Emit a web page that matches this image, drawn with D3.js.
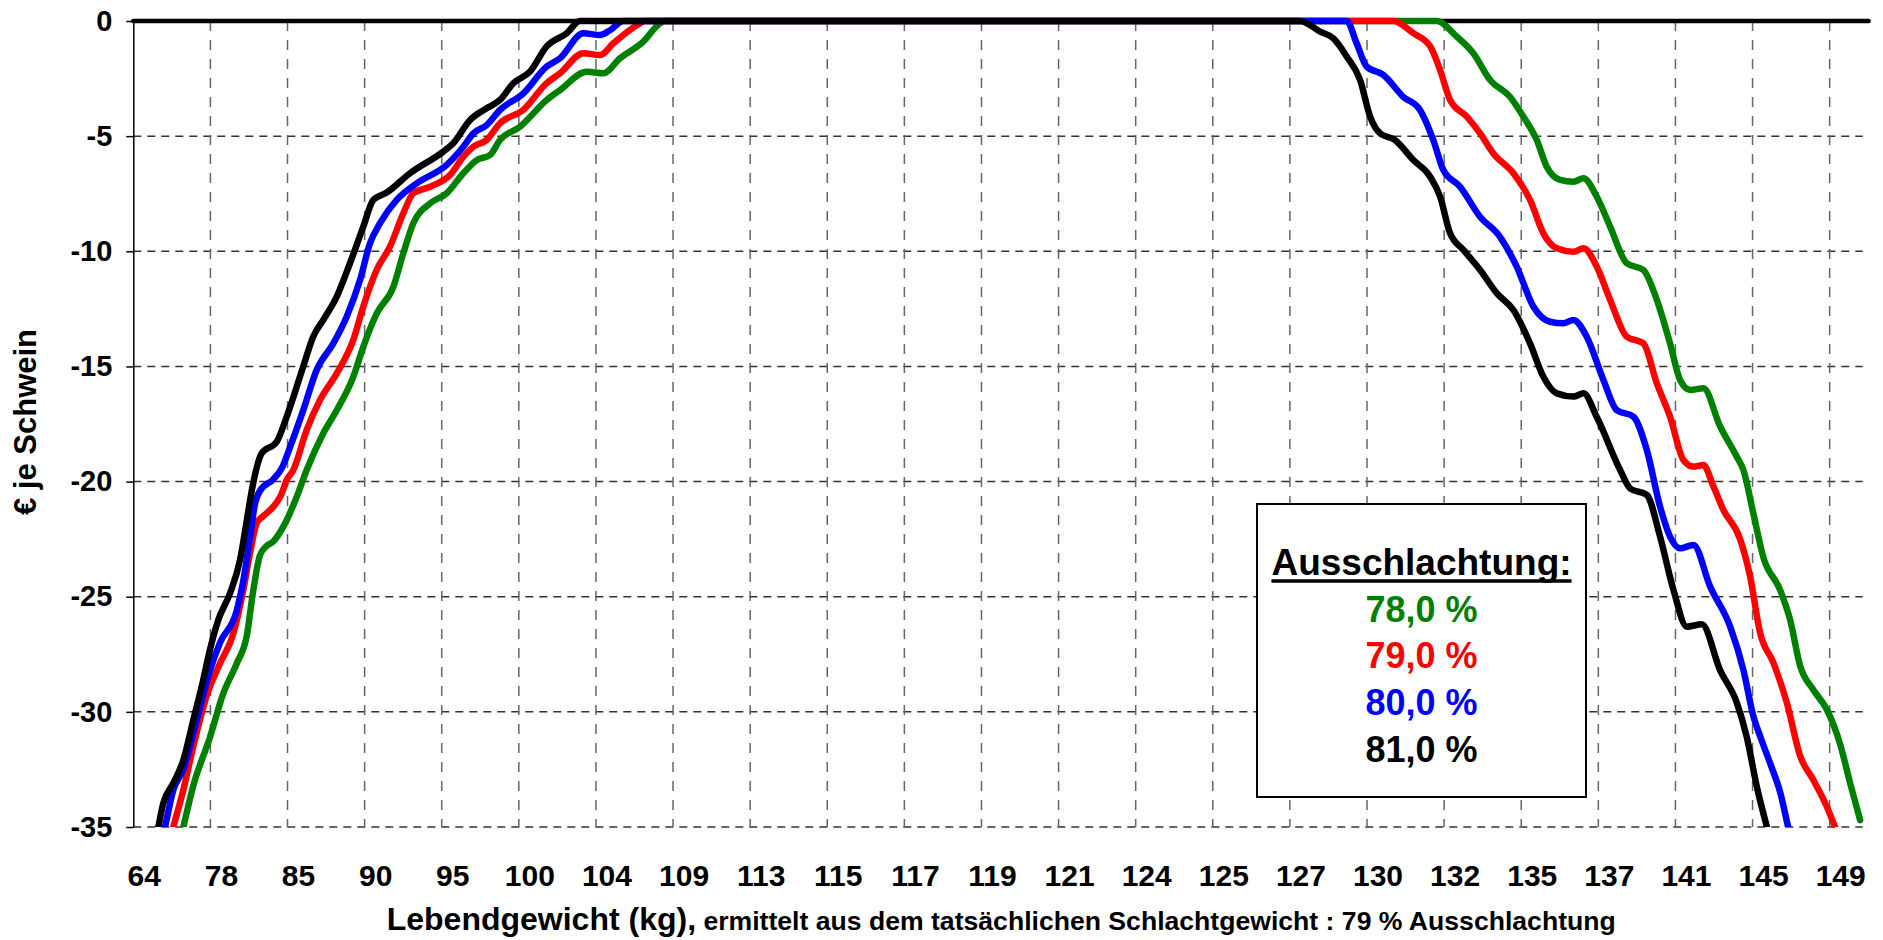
<!DOCTYPE html>
<html><head><meta charset="utf-8">
<script src="https://cdn.jsdelivr.net/npm/d3@7"></script>
<style>
body{margin:0;background:#fff}
text{font-family:"Liberation Sans",Arial,sans-serif;font-weight:bold}
</style>
</head><body>
<svg id="c" width="1883" height="940"></svg>
<script>
// ---------- DATA ----------
const xLabels = ["64","78","85","90","95","100","104","109","113","115","117","119","121","124","125","127","130","132","135","137","141","145","149"];
const categoriesPerLabel = 7;
const categoryCount = 157;
const yTicks = [0,-5,-10,-15,-20,-25,-30,-35];
const seriesNames = ["78,0 %","79,0 %","80,0 %","81,0 %"];
const legendTitle = "Ausschlachtung:";
const xTitleMain = "Lebendgewicht (kg),";
const xTitleSub = " ermittelt aus dem tatsächlichen Schlachtgewicht : 79 % Ausschlachtung";
const yTitle = "€ je Schwein";

// [category index, € je Schwein]
const green78 = [
[3.04,-37],[4.04,-35],[4.95,-33.2],[6.46,-31.1],[7.67,-29.2],[8.89,-27.9],[9.80,-26.7],[10.40,-24.7],[11.0,-23.2],[11.6,-22.8],[12.21,-22.6],[13.12,-21.96],[14.34,-20.66],[15.24,-19.5],[16.75,-17.9],[17.97,-16.9],[19.47,-15.45],[20.38,-14.15],[21.60,-12.7],[23.11,-11.54],[24.01,-10.09],[24.92,-8.78],[26.44,-7.92],[27.95,-7.48],[29.46,-6.61],[30.68,-6.04],[31.88,-5.82],[32.79,-5.17],[34.61,-4.59],[37.03,-3.43],[38.24,-3.0],[40.66,-2.2],[42.17,-2.27],[43.68,-1.62],[45.80,-0.9],[47.32,-0.1],[47.77,0],
[117.83,0],[119.65,-0.68],[121.15,-1.4],[122.67,-2.56],[124.48,-3.29],[125.69,-4.15],[126.91,-5.17],[127.82,-6.33],[129.02,-6.9],[130.24,-6.98],[131.15,-6.83],[132.36,-7.63],[133.57,-8.93],[135.08,-10.52],[136.59,-10.81],[137.81,-12.11],[139.01,-14.0],[139.92,-15.59],[140.83,-16.02],[142.04,-15.95],[143.56,-17.61],[145.07,-18.92],[145.67,-19.5],[146.58,-21.4],[147.49,-23.3],[149.0,-24.7],[149.91,-26.0],[150.82,-28.0],[152.03,-29.05],[153.24,-29.9],[154.45,-31.4],[155.36,-33.1],[156.27,-34.7]
];
const red79 = [
[2.13,-36.8],[3.13,-35],[4.04,-33.4],[4.95,-31.5],[6.16,-29.3],[7.37,-27.9],[8.58,-26.6],[9.49,-24.7],[10.10,-23.1],[10.70,-21.8],[11.3,-21.5],[12.2,-21.1],[12.9,-20.6],[13.43,-19.93],[14.03,-19.5],[15.24,-17.76],[16.45,-16.46],[17.97,-15.3],[19.47,-13.85],[20.38,-12.4],[21.60,-10.8],[22.80,-9.8],[24.01,-8.35],[24.92,-7.48],[26.44,-7.2],[28.25,-6.69],[29.46,-5.9],[30.37,-5.46],[31.58,-5.17],[32.79,-4.44],[34.91,-3.86],[37.03,-2.7],[38.24,-2.27],[40.35,-1.4],[41.87,-1.48],[43.08,-0.97],[45.50,-0.1],[45.95,0],
[113.89,0],[115.71,-0.53],[117.23,-1.1],[118.14,-2.13],[119.04,-3.43],[120.56,-4.15],[121.77,-4.88],[122.97,-5.75],[124.79,-6.61],[126.30,-7.77],[127.51,-9.22],[128.73,-9.87],[130.24,-10.02],[131.15,-9.87],[132.36,-10.67],[133.57,-12.11],[135.08,-13.71],[136.59,-14.0],[137.81,-15.74],[139.01,-17.18],[140.22,-19.06],[141.13,-19.35],[142.04,-19.28],[142.94,-20.2],[143.85,-21.23],[145.37,-22.5],[146.27,-24.1],[147.18,-26.56],[148.39,-27.86],[149.61,-29.6],[150.81,-31.9],[152.02,-32.96],[153.23,-34.1],[153.99,-35],[155.0,-36.2]
];
const blue80 = [
[1.38,-37.1],[2.38,-35],[3.13,-33.4],[4.04,-32.5],[5.26,-30.35],[6.46,-28.2],[7.37,-27.0],[8.89,-25.6],[9.49,-24.3],[10.10,-22.4],[10.55,-20.95],[11.0,-20.4],[12.21,-19.9],[13.0,-19.4],[13.73,-18.5],[14.93,-16.9],[16.15,-15.15],[17.66,-14.0],[18.87,-12.84],[20.08,-11.25],[20.99,-9.65],[21.90,-8.78],[23.41,-7.77],[25.23,-7.05],[27.95,-6.25],[29.46,-5.46],[30.37,-4.88],[31.58,-4.52],[32.79,-3.86],[34.91,-3.14],[37.03,-1.98],[38.24,-1.62],[40.35,-0.53],[41.87,-0.61],[42.78,-0.4],[43.99,0],
[109.65,0],[110.56,-0.97],[111.47,-1.98],[112.98,-2.34],[114.79,-3.29],[116.31,-3.86],[117.52,-5.17],[118.43,-6.47],[119.94,-7.19],[121.76,-8.5],[123.57,-9.37],[125.09,-10.67],[126.60,-12.4],[128.11,-13.06],[129.32,-13.13],[130.23,-12.98],[131.45,-13.71],[132.96,-15.59],[134.17,-16.9],[135.68,-17.18],[136.90,-18.63],[138.11,-21.1],[139.02,-22.4],[139.93,-22.9],[141.13,-22.75],[142.65,-24.56],[144.47,-26.3],[145.68,-28.2],[146.58,-30.2],[147.3,-31.2],[148.10,-32.24],[149.01,-33.5],[149.73,-35],[150.7,-37]
];
const black81 = [
[0.77,-37.3],[1.77,-35],[2.22,-33.97],[3.13,-33.1],[4.04,-32.1],[4.95,-30.35],[5.71,-28.9],[6.46,-27.3],[7.22,-26.0],[8.28,-24.85],[9.19,-23.4],[9.80,-21.7],[10.25,-20.4],[11.16,-18.77],[12.52,-18.27],[13.43,-17.18],[14.93,-15.0],[15.84,-13.7],[16.75,-12.98],[17.97,-11.97],[19.17,-10.52],[20.38,-8.93],[21.29,-7.77],[22.51,-7.45],[24.62,-6.61],[27.64,-5.67],[28.55,-5.31],[30.07,-4.3],[31.58,-3.79],[32.79,-3.43],[34.0,-2.7],[35.51,-2.2],[37.03,-1.1],[38.85,-0.53],[40.05,0],
[105.42,0],[107.24,-0.46],[108.45,-0.75],[109.67,-1.55],[110.87,-2.56],[111.78,-4.15],[112.69,-4.88],[114.05,-5.17],[115.71,-6.04],[117.23,-6.76],[118.14,-7.63],[119.04,-9.22],[120.25,-9.94],[121.77,-10.81],[123.28,-11.82],[124.79,-12.55],[126.30,-14.0],[127.51,-15.45],[128.73,-16.17],[130.24,-16.31],[131.15,-16.17],[132.36,-17.2],[134.48,-19.5],[135.39,-20.3],[136.90,-20.58],[138.11,-22.4],[139.32,-24.7],[140.53,-26.3],[141.89,-26.2],[143.56,-28.2],[145.07,-29.6],[145.98,-31.1],[146.89,-33.25],[147.80,-35],[148.8,-36.9]
];
const seriesData = [green78, red79, blue80, black81];
const seriesColors = ["#008000","#ff0000","#0000ff","#000000"];

// ---------- LAYOUT ----------
const svg = d3.select("#c");
const plot = {left:133.3, right:1862.7, top:21, bottom:827};
const x = d3.scaleLinear().domain([-0.5, categoryCount-0.5]).range([plot.left, plot.right]);
const y = d3.scaleLinear().domain([0,-35]).range([plot.top, plot.bottom]);

svg.append("rect").attr("width",1883).attr("height",940).attr("fill","#fff");

svg.append("defs").append("clipPath").attr("id","clip")
  .append("rect").attr("x",plot.left).attr("y",plot.top-12)
  .attr("width",plot.right-plot.left+12).attr("height",plot.bottom-plot.top+12);

// horizontal grid
svg.append("g").selectAll("line").data(yTicks.filter(d=>d!==0)).join("line")
  .attr("x1",plot.left).attr("x2",plot.right)
  .attr("y1",d=>y(d)).attr("y2",d=>y(d))
  .attr("stroke","#333").attr("stroke-width",1.5).attr("stroke-dasharray","8,6");

// vertical grid (between label groups)
const gridIdx = d3.range(1, xLabels.length).map(k=>k*categoriesPerLabel-0.5);
svg.append("g").selectAll("line").data(gridIdx).join("line")
  .attr("x1",d=>x(d)).attr("x2",d=>x(d))
  .attr("y1",y(0)).attr("y2",y(-35))
  .attr("stroke","#666").attr("stroke-width",1.5).attr("stroke-dasharray","10,9");

// y axis
const yAxis = svg.append("g").attr("transform",`translate(${plot.left},0)`)
  .call(d3.axisLeft(y).tickValues(yTicks).tickSizeInner(7).tickSizeOuter(0).tickPadding(14).tickFormat(d=>String(d)));
yAxis.select(".domain").attr("stroke","#000").attr("stroke-width",1.5);
yAxis.selectAll(".tick line").attr("stroke","#000").attr("stroke-width",1.5);
yAxis.selectAll(".tick text").attr("font-size",29).attr("fill","#000")
  .style("font-family",'"Liberation Sans",Arial,sans-serif').style("font-weight","bold");

// x axis labels (at bottom)
const xAxis = svg.append("g").attr("transform",`translate(0,${plot.bottom})`)
  .call(d3.axisBottom(x).tickValues(d3.range(0, xLabels.length).map(k=>k*categoriesPerLabel))
    .tickFormat((d,i)=>xLabels[i]).tickSize(0));
xAxis.select(".domain").remove();
xAxis.selectAll(".tick text").attr("font-size",30).attr("fill","#000")
  .attr("y",59).attr("dy",null).attr("x",5)
  .style("font-family",'"Liberation Sans",Arial,sans-serif').style("font-weight","bold");

// zero (category) axis line
svg.append("line").attr("x1",plot.left).attr("x2",plot.right+6)
  .attr("y1",y(0)).attr("y2",y(0))
  .attr("stroke","#000").attr("stroke-width",4.5).attr("stroke-linecap","round");

// series
const line = d3.line().x(d=>x(d[0])).y(d=>y(d[1])).curve(d3.curveMonotoneX);
svg.append("g").attr("clip-path","url(#clip)").selectAll("path").data(seriesData).join("path")
  .attr("d",line).attr("fill","none")
  .attr("stroke",(d,i)=>seriesColors[i]).attr("stroke-width",6.5)
  .attr("stroke-linejoin","round").attr("stroke-linecap","round");

// axis titles
const xt = svg.append("text").attr("x",386.7).attr("y",930).attr("fill","#000");
xt.append("tspan").attr("font-size",32).text(xTitleMain);
xt.append("tspan").attr("font-size",26.6).text(xTitleSub);

svg.append("text").attr("transform","translate(36,422) rotate(-90)")
  .attr("text-anchor","middle").attr("font-size",31).attr("fill","#000").text(yTitle);

// legend
const lg = {x0:1257, x1:1586, y0:504, y1:797};
const cx = (lg.x0+lg.x1)/2;
svg.append("rect").attr("x",lg.x0).attr("y",lg.y0).attr("width",lg.x1-lg.x0).attr("height",lg.y1-lg.y0)
  .attr("fill","#fff").attr("stroke","#000").attr("stroke-width",2);
const title = svg.append("text").attr("x",cx).attr("y",575).attr("text-anchor","middle")
  .attr("font-size",37).attr("fill","#000").text(legendTitle);
const tw = title.node().getComputedTextLength();
svg.append("line").attr("x1",cx-tw/2).attr("x2",cx+tw/2).attr("y1",581).attr("y2",581)
  .attr("stroke","#000").attr("stroke-width",3.5);
svg.append("g").selectAll("text").data(seriesNames).join("text")
  .attr("x",cx).attr("y",(d,i)=>621.7+i*46.7).attr("text-anchor","middle")
  .attr("font-size",36).attr("fill",(d,i)=>seriesColors[i]).text(d=>d);
</script>
</body></html>
